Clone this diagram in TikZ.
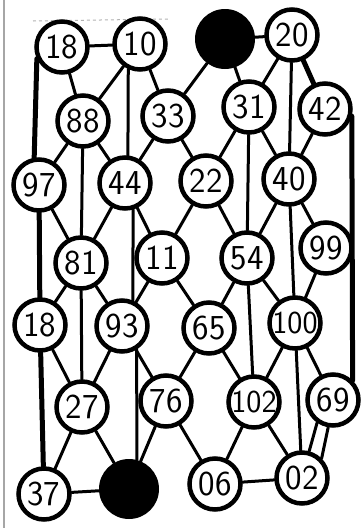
\documentclass[tikz,border=0pt]{standalone}
\begin{document}
\begin{tikzpicture}[x=1pt,y=-1pt,
  num/.style={circle,draw,line width=4.5pt,fill=white,minimum size=51pt,inner sep=0pt,font=\sffamily\fontsize{35}{35}\selectfont},
  wide/.style={font=\sffamily\fontsize{32}{32}\selectfont},
  blob/.style={circle,fill=black,minimum size=60pt,inner sep=0pt},
  link/.style={line width=3pt,line cap=round},
  rim/.style={line width=5pt,line cap=round}]
  \useasboundingbox (0,0) rectangle (360,528);
  \draw[gray!70,line width=1.5pt] (4,0)--(4,528);
  \draw[gray!60,dashed,line width=1pt] (33,21)--(168,19);
  % top rows
  \node[num] (n18) at (62,47) {18};
  \node[num] (n10) at (140,44) {10};
  \node[blob] (top) at (225,39) {};
  \node[num] (n20) at (292,35) {20};
  \node[num] (n88) at (83,121) {88};
  \node[num] (n33) at (168,116) {33};
  \node[num] (n31) at (249,107) {31};
  \node[num] (n42) at (325,109) {42};
  \node[num] (n97) at (39,185) {97};
  \node[num] (n44) at (125,183) {44};
  \node[num] (n22) at (206,181) {22};
  \node[num] (n40) at (289,179) {40};
  % middle rows
  \node[num] (n81) at (81,263) {81};
  \node[num] (n11) at (162,258) {11};
  \node[num] (n54) at (247,258) {54};
  \node[num] (n99) at (326,248) {99};
  \node[num] (m18) at (40,325) {18};
  \node[num] (n93) at (122,326) {93};
  \node[num] (n65) at (209,328) {65};
  \node[num,wide] (n100) at (295,323) {100};
  % bottom rows
  \node[num] (n27) at (82,407) {27};
  \node[num] (n76) at (166,401) {76};
  \node[num,wide] (n102) at (254,402) {102};
  \node[num] (n69) at (333,400) {69};
  \node[num] (n37) at (44,494) {37};
  \node[blob] (bot) at (129,489) {};
  \node[num] (n06) at (215,484) {06};
  \node[num] (n02) at (302,478) {02};
  % diagonals
  \draw[link] (n18)--(n10) (top)--(n20) (n18)--(n88) (n10)--(n88) (n10)--(n33)
    (top)--(n33) (top)--(n31) (n20)--(n31);
  \draw[link] (n88)--(n97) (n88)--(n44) (n33)--(n44) (n33)--(n22) (n31)--(n22)
    (n31)--(n40) (n42)--(n40);
  \draw[link] (n97)--(n81) (n44)--(n81) (n44)--(n11) (n22)--(n11) (n22)--(n54)
    (n40)--(n54) (n40)--(n99);
  \draw[link] (n81)--(m18) (n81)--(n93) (n11)--(n93) (n11)--(n65) (n54)--(n65)
    (n54)--(n100) (n99)--(n100);
  \draw[link] (m18)--(n27) (n93)--(n27) (n93)--(n76) (n65)--(n76) (n65)--(n102)
    (n100)--(n102) (n100)--(n69);
  \draw[link] (n27)--(n37) (n27)--(bot) (n76)--(bot) (n76)--(n06) (n102)--(n06)
    (n102)--(n02) (n69.235)--(n02.75) (n69.260)--(n02.45) (n37)--(bot) (n06)--(n02);
  % verticals
  \draw[link] (n10.245)--(n44.84) (n88)--(n81) (n20)--(n40) (n31)--(n54)
    (n44.287)--(n93.67) (n81)--(n27) (n40)--(n100) (n54)--(n102)
    (n93.302)--(bot.75) (n100)--(n02);
  % outer edges
  \draw[rim] (n18.205)--(n97.100) (n97)--(m18) (m18)--(n37)
    (n20)--(n42) (n42.345)--(n69.45);
\end{tikzpicture}
\end{document}
